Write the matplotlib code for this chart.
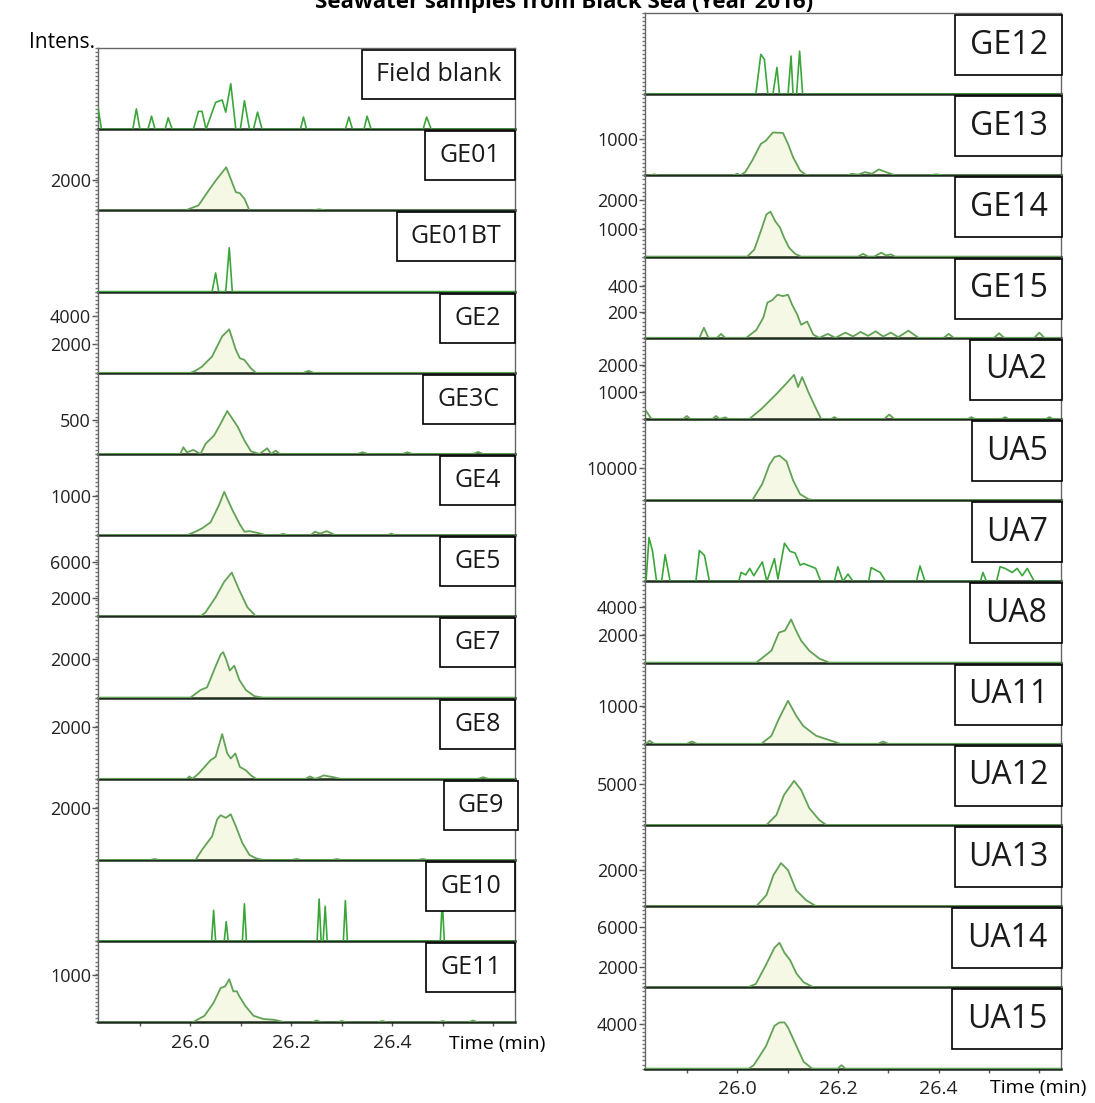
import matplotlib.pyplot as plt
from matplotlib.patches import Rectangle
from matplotlib.ticker import MultipleLocator

plt.rcParams['font.family'] = ['Open Sans', 'DejaVu Sans']

W, H = 1095, 1103

# ---- chromatograms: retention time (min) and intensity ----
# left column
FB_T = [25.817, 25.824, 25.886, 25.893, 25.900, 25.916, 25.923, 25.930, 25.950, 25.956,
        25.964, 26.006, 26.016, 26.023, 26.031, 26.050, 26.063, 26.070, 26.080, 26.090,
        26.099, 26.107, 26.117, 26.125, 26.133, 26.142, 26.218, 26.224, 26.230, 26.307,
        26.314, 26.321, 26.344, 26.350, 26.358, 26.461, 26.468, 26.477, 26.643]
FB_I = [27, 0, 0, 25, 0, 0, 16, 0, 0, 14,
        0, 0, 22, 22, 0, 33, 36, 21, 56, 0,
        0, 35, 0, 0, 21, 0, 0, 15, 0, 0,
        15, 0, 0, 16, 0, 0, 15, 0, 0]

GE01_T = [25.817, 25.990, 26.016, 26.036, 26.050, 26.071, 26.090, 26.098, 26.107, 26.117,
          26.240, 26.255, 26.270, 26.643]
GE01_I = [0, 0, 330, 1300, 1950, 2830, 1200, 1130, 770, 0, 0, 70, 0, 0]

GE01BT_T = [25.817, 26.043, 26.050, 26.056, 26.070, 26.077, 26.083, 26.643]
GE01BT_I = [0, 0, 23, 0, 0, 54, 0, 0]

GE2_T = [25.817, 26.000, 26.010, 26.023, 26.043, 26.063, 26.077, 26.090, 26.098, 26.107,
         26.120, 26.130, 26.224, 26.234, 26.244, 26.643]
GE2_I = [0, 0, 140, 430, 1140, 2550, 3030, 1610, 1020, 900, 310, 0, 0, 140, 0, 0]

GE3C_T = [25.817, 25.980, 25.986, 25.993, 26.006, 26.020, 26.030, 26.047, 26.060, 26.073,
          26.094, 26.107, 26.120, 26.137, 26.152, 26.160, 26.169, 26.177, 26.330, 26.341,
          26.352, 26.420, 26.430, 26.440, 26.560, 26.570, 26.580, 26.643]
GE3C_I = [0, 0, 100, 25, 60, 0, 150, 275, 450, 635,
          400, 200, 40, 0, 85, 0, 50, 0, 0, 25,
          0, 0, 25, 0, 0, 30, 0, 0]

GE4_T = [25.817, 25.993, 26.010, 26.023, 26.040, 26.057, 26.067, 26.083, 26.097, 26.107,
         26.117, 26.133, 26.150, 26.175, 26.184, 26.193, 26.238, 26.247, 26.257, 26.270,
         26.287, 26.390, 26.398, 26.406, 26.643]
GE4_I = [0, 0, 90, 175, 330, 780, 1110, 650, 300, 90,
         105, 60, 0, 0, 35, 0, 0, 90, 40, 105,
         0, 0, 40, 0, 0]

GE5_T = [25.817, 26.020, 26.030, 26.050, 26.067, 26.082, 26.097, 26.113, 26.130, 26.643]
GE5_I = [0, 0, 450, 2100, 3800, 4800, 2860, 1000, 0, 0]

GE7_T = [25.817, 26.000, 26.020, 26.033, 26.050, 26.060, 26.065, 26.071, 26.078, 26.087,
         26.097, 26.110, 26.127, 26.144, 26.643]
GE7_I = [0, 0, 390, 530, 1620, 2230, 2350, 1970, 1400, 1650, 910, 390, 70, 0, 0]

GE8_T = [25.817, 25.993, 25.998, 26.004, 26.016, 26.040, 26.050, 26.063, 26.073, 26.080,
         26.089, 26.098, 26.110, 26.120, 26.130, 26.228, 26.237, 26.247, 26.256, 26.264,
         26.284, 26.297, 26.570, 26.580, 26.590, 26.643]
GE8_I = [0, 0, 90, 0, 195, 715, 845, 1720, 975, 780,
         975, 455, 325, 130, 0, 0, 90, 0, 60, 130,
         60, 0, 0, 60, 0, 0]

GE9_T = [25.817, 25.920, 25.929, 25.938, 26.010, 26.023, 26.043, 26.053, 26.060, 26.070,
         26.080, 26.090, 26.103, 26.117, 26.130, 26.144, 26.200, 26.210, 26.220, 26.280,
         26.290, 26.300, 26.450, 26.460, 26.470, 26.643]
GE9_I = [0, 0, 40, 0, 0, 390, 910, 1560, 1720, 1620,
         1755, 1300, 650, 195, 65, 0, 0, 40, 0, 0,
         35, 0, 0, 40, 0, 0]

GE10_T = [25.817, 26.042, 26.046, 26.050, 26.067, 26.071, 26.075, 26.103, 26.107, 26.111,
          26.251, 26.255, 26.259, 26.263, 26.267, 26.271, 26.303, 26.307, 26.311, 26.495,
          26.499, 26.503, 26.643]
GE10_I = [0, 0, 38, 0, 0, 24, 0, 0, 46, 0,
          0, 52, 0, 0, 43, 0, 0, 50, 0, 0,
          50, 0, 0]

GE11_T = [25.817, 26.004, 26.028, 26.046, 26.060, 26.069, 26.077, 26.085, 26.092, 26.097,
          26.109, 26.125, 26.145, 26.166, 26.188, 26.240, 26.250, 26.260, 26.290, 26.300,
          26.310, 26.370, 26.380, 26.390, 26.490, 26.500, 26.510, 26.550, 26.560, 26.570,
          26.643]
GE11_I = [0, 0, 140, 415, 725, 760, 910, 655, 655, 550,
          345, 140, 70, 55, 0, 0, 40, 0, 0, 30,
          0, 0, 30, 0, 0, 30, 0, 0, 40, 0,
          0]

# right column
GE12_T = [25.819, 26.037, 26.047, 26.054, 26.061, 26.071, 26.079, 26.084, 26.101, 26.107,
          26.111, 26.118, 26.124, 26.130, 26.646]
GE12_I = [0, 0, 49, 43, 0, 0, 33, 0, 0, 47, 0, 0, 53, 0, 0]

GE13_T = [25.819, 25.828, 25.835, 25.845, 25.992, 26.000, 26.006, 26.016, 26.030, 26.047,
          26.057, 26.071, 26.091, 26.101, 26.111, 26.125, 26.135, 26.145, 26.220, 26.227,
          26.240, 26.254, 26.268, 26.281, 26.301, 26.315, 26.380, 26.395, 26.410, 26.646]
GE13_I = [0, 0, 30, 0, 0, 45, 0, 90, 410, 865,
          955, 1180, 1165, 865, 500, 135, 25, 0, 0, 45,
          20, 90, 45, 165, 65, 0, 0, 30, 0, 0]

GE14_T = [25.819, 26.020, 26.034, 26.048, 26.058, 26.066, 26.076, 26.085, 26.093, 26.103,
          26.115, 26.127, 26.240, 26.250, 26.260, 26.272, 26.286, 26.296, 26.305, 26.314,
          26.646]
GE14_I = [0, 0, 250, 960, 1500, 1600, 1250, 1035, 680, 320,
          100, 0, 0, 100, 0, 0, 140, 40, 80, 0,
          0]

GE15_T = [25.819, 25.925, 25.934, 25.943, 25.960, 25.968, 25.976, 26.018, 26.038, 26.052,
          26.060, 26.070, 26.080, 26.091, 26.101, 26.109, 26.119, 26.127, 26.139, 26.151,
          26.163, 26.180, 26.195, 26.215, 26.230, 26.245, 26.260, 26.275, 26.290, 26.305,
          26.320, 26.340, 26.360, 26.410, 26.420, 26.430, 26.510, 26.520, 26.530, 26.590,
          26.600, 26.610, 26.646]
GE15_I = [0, 0, 77, 0, 0, 30, 0, 0, 60, 155,
          270, 290, 330, 320, 330, 255, 180, 100, 125, 25,
          0, 30, 0, 40, 10, 45, 15, 50, 10, 40,
          5, 55, 0, 0, 30, 0, 0, 35, 0, 0,
          40, 0, 0]

UA2_T = [25.819, 25.830, 25.893, 25.900, 25.907, 25.951, 25.958, 25.965, 25.976, 25.983,
         26.024, 26.048, 26.078, 26.097, 26.113, 26.121, 26.129, 26.143, 26.157, 26.167,
         26.186, 26.193, 26.200, 26.292, 26.302, 26.312, 26.458, 26.465, 26.472, 26.525,
         26.532, 26.539, 26.613, 26.620, 26.627, 26.646]
UA2_I = [300, 0, 0, 110, 0, 0, 110, 0, 60, 0,
         0, 370, 925, 1300, 1630, 1180, 1550, 925, 370, 0,
         0, 70, 0, 0, 165, 0, 0, 70, 0, 0,
         70, 0, 0, 70, 0, 0]

UA5_T = [25.819, 26.030, 26.050, 26.064, 26.074, 26.084, 26.098, 26.111, 26.125, 26.142,
         26.155, 26.646]
UA5_I = [0, 0, 5150, 11100, 13550, 14000, 12200, 6250, 1900, 300, 0, 0]

UA7_T = [25.819, 25.825, 25.832, 25.840, 25.850, 25.857, 25.867, 25.918, 25.925, 25.935,
         25.945, 26.003, 26.008, 26.017, 26.025, 26.033, 26.050, 26.059, 26.074, 26.081,
         26.094, 26.105, 26.115, 26.125, 26.132, 26.156, 26.166, 26.193, 26.200, 26.210,
         26.220, 26.230, 26.261, 26.266, 26.284, 26.295, 26.356, 26.363, 26.373, 26.483,
         26.488, 26.495, 26.515, 26.522, 26.532, 26.546, 26.556, 26.566, 26.576, 26.590,
         26.646]
UA7_I = [0, 54, 37, 0, 0, 33, 0, 0, 38, 32,
         0, 0, 11, 8, 16, 7, 24, 0, 28, 3,
         47, 37, 35, 20, 22, 16, 0, 0, 18, 0,
         9, 0, 0, 17, 11, 0, 0, 19, 0, 0,
         11, 0, 0, 18, 16, 11, 16, 7, 16, 0,
         0]

UA8_T = [25.819, 26.038, 26.068, 26.083, 26.095, 26.107, 26.117, 26.127, 26.143, 26.163,
         26.183, 26.646]
UA8_I = [0, 0, 860, 2160, 2300, 3100, 2300, 1580, 860, 290, 0, 0]

UA11_T = [25.819, 25.826, 25.835, 25.900, 25.910, 25.920, 26.048, 26.068, 26.083, 26.101,
          26.117, 26.131, 26.157, 26.187, 26.205, 26.280, 26.290, 26.300, 26.646]
UA11_I = [0, 80, 0, 0, 60, 0, 0, 210, 660, 1130, 740, 470, 210, 80, 0, 0, 60, 0, 0]

UA12_T = [25.819, 26.058, 26.078, 26.093, 26.113, 26.127, 26.143, 26.163, 26.177, 26.646]
UA12_I = [0, 0, 1220, 3660, 5370, 4270, 2070, 610, 0, 0]

UA13_T = [25.819, 26.038, 26.058, 26.072, 26.087, 26.101, 26.117, 26.137, 26.157, 26.646]
UA13_I = [0, 0, 610, 1720, 2390, 2000, 890, 330, 0, 0]

UA14_T = [25.819, 26.020, 26.037, 26.057, 26.074, 26.084, 26.094, 26.105, 26.118, 26.132,
          26.152, 26.646]
UA14_I = [0, 0, 340, 2200, 3900, 4400, 3400, 2700, 1350, 500, 0, 0]

UA15_T = [25.819, 26.023, 26.033, 26.057, 26.074, 26.084, 26.094, 26.101, 26.118, 26.132,
          26.149, 26.200, 26.207, 26.215, 26.646]
UA15_I = [0, 0, 310, 2000, 3840, 4150, 4150, 3690, 2000, 610, 0, 0, 310, 0, 0]

LEFT_NAMES = ['Field blank', 'GE01', 'GE01BT', 'GE2', 'GE3C', 'GE4', 'GE5', 'GE7',
              'GE8', 'GE9', 'GE10', 'GE11']
LEFT_TRACES = [(FB_T, FB_I), (GE01_T, GE01_I), (GE01BT_T, GE01BT_I), (GE2_T, GE2_I),
               (GE3C_T, GE3C_I), (GE4_T, GE4_I), (GE5_T, GE5_I), (GE7_T, GE7_I),
               (GE8_T, GE8_I), (GE9_T, GE9_I), (GE10_T, GE10_I), (GE11_T, GE11_I)]
LEFT_YMAX = [100, 5330, 100, 5670, 1200, 2080, 8900, 4200, 3120, 3120, 100, 1710]
LEFT_YTICKS = [[], [2000], [], [2000, 4000], [500], [1000], [2000, 6000], [2000],
               [2000], [2000], [], [1000]]

RIGHT_NAMES = ['GE12', 'GE13', 'GE14', 'GE15', 'UA2', 'UA5', 'UA7', 'UA8', 'UA11',
               'UA12', 'UA13', 'UA14', 'UA15']
RIGHT_TRACES = [(GE12_T, GE12_I), (GE13_T, GE13_I), (GE14_T, GE14_I), (GE15_T, GE15_I),
                (UA2_T, UA2_I), (UA5_T, UA5_I), (UA7_T, UA7_I), (UA8_T, UA8_I),
                (UA11_T, UA11_I), (UA12_T, UA12_I), (UA13_T, UA13_I), (UA14_T, UA14_I),
                (UA15_T, UA15_I)]
RIGHT_YMAX = [100, 2230, 2890, 623, 3000, 25500, 100, 5830, 2130, 9880, 4500, 8000, 7300]
RIGHT_YTICKS = [[], [1000], [1000, 2000], [200, 400], [1000, 2000], [10000], [],
                [2000, 4000], [1000], [5000], [2000], [2000, 6000], [4000]]

XTICKS = [25.9, 26.0, 26.1, 26.2, 26.3, 26.4, 26.5, 26.6]
XTICK_LABELS = ['', '26.0', '', '26.2', '', '26.4', '', '']
XLIM = (25.817, 26.643)

SPIKY = ['Field blank', 'GE01BT', 'GE10', 'GE12', 'UA7']

# layout (pixels, top-left origin)
PANEL_H = 81.2
LEFT_BOX_X = [(362, 515), (425, 515), (397, 515), (440, 515), (423, 515), (440, 515),
              (440, 515), (440, 515), (440, 515), (444, 518), (426, 515), (426, 515)]
RIGHT_BOX_X = [(955, 1062), (955, 1062), (955, 1062), (955, 1062), (970, 1062),
               (972, 1062), (972, 1062), (970, 1062), (955, 1062), (955, 1062),
               (955, 1062), (952, 1062), (952, 1062)]

fig = plt.figure(figsize=(W / 100, H / 100), dpi=100)


def fig_rect(x0, y0, x1, y1):
    return [x0 / W, 1 - y1 / H, (x1 - x0) / W, (y1 - y0) / H]


def draw_column(names, traces, ymaxes, yticks, box_x, x0, x1, top, box_h, box_fs):
    n = len(names)
    for i, name in enumerate(names):
        ptop = top + PANEL_H * i
        ax = fig.add_axes(fig_rect(x0, ptop, x1, ptop + PANEL_H))
        t, v = traces[i]
        if name in SPIKY:
            ax.plot(t, v, color='#3aa63a', lw=1.2, zorder=3)
        else:
            ax.fill_between(t, 0, v, color='#f5f8e4', lw=0, zorder=2)
            ax.plot(t, v, color='#62a257', lw=1.3, zorder=3)
        ax.set_xlim(*XLIM)
        ax.set_ylim(0, ymaxes[i])
        ax.patch.set_alpha(0)

        for s in ['left', 'right', 'top']:
            ax.spines[s].set_color('#666666')
            ax.spines[s].set_linewidth(1.0)
        ax.spines['top'].set_visible(i == 0)
        ax.spines['bottom'].set_color('#1e2a1e')
        ax.spines['bottom'].set_linewidth(1.8)

        ax.set_yticks(yticks[i])
        ax.set_yticklabels([str(y) for y in yticks[i]], fontsize=13, color='#222222')
        ax.yaxis.set_minor_locator(MultipleLocator(ymaxes[i] / 20))
        ax.tick_params(axis='y', which='major', length=4, width=1, pad=1, color='#555555')
        ax.tick_params(axis='y', which='minor', length=2.5, width=1, color='#777777')

        if i == n - 1:
            ax.set_xticks(XTICKS)
            ax.set_xticklabels(XTICK_LABELS, fontsize=14, color='#222222')
            ax.tick_params(axis='x', length=3, width=1, pad=5, color='#555555')
        else:
            ax.set_xticks([])

        bx0, bx1 = box_x[i]
        by0 = ptop + 2
        fig.add_artist(Rectangle((bx0 / W, 1 - (by0 + box_h) / H), (bx1 - bx0) / W, box_h / H,
                                 transform=fig.transFigure, facecolor='white',
                                 edgecolor='black', lw=1.2, zorder=5))
        fig.text((bx0 + bx1) / 2 / W, 1 - (by0 + box_h / 2) / H, name, ha='center',
                 va='center', fontsize=box_fs, color='#1a1a1a', zorder=6)


draw_column(LEFT_NAMES, LEFT_TRACES, LEFT_YMAX, LEFT_YTICKS, LEFT_BOX_X,
            98, 515, 48, 49, 18)
draw_column(RIGHT_NAMES, RIGHT_TRACES, RIGHT_YMAX, RIGHT_YTICKS, RIGHT_BOX_X,
            645, 1061, 13, 60, 23)

# the title sits partly above the top edge, as in the source figure
fig.text(564 / W, 1 - 8 / H, 'Seawater samples from Black Sea (Year 2016)',
         ha='center', va='baseline', fontsize=16, fontweight='bold')
fig.text(95 / W, 1 - 48 / H, 'Intens.', ha='right', va='baseline', fontsize=15)
fig.text(497 / W, 1 - 1044 / H, 'Time (min)', ha='center', va='center', fontsize=14)
fig.text(1038 / W, 1 - 1088 / H, 'Time (min)', ha='center', va='center', fontsize=14)

fig.savefig('out.png', dpi=100)
